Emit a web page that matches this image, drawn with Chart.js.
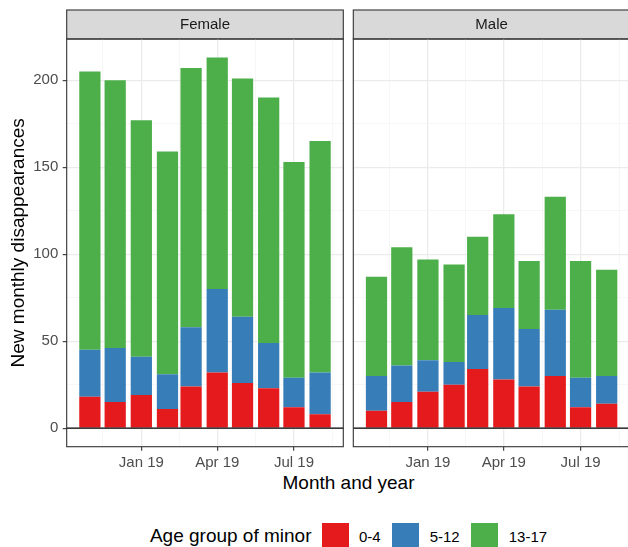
<!DOCTYPE html>
<html>
<head>
<meta charset="utf-8">
<title>New monthly disappearances by sex and age group</title>
<script src="https://cdn.jsdelivr.net/npm/chart.js@4.4.1/dist/chart.umd.min.js"></script>
<style>
  html, body { margin: 0; padding: 0; background: #fff; overflow: hidden; width: 628px; height: 547px; }
  #wrap { position: relative; width: 628px; height: 547px; overflow: hidden;
          font-family: "Liberation Sans", Arial, Helvetica, sans-serif; }
  #wrap canvas { position: absolute; top: 0; }
  #female { left: 0; }
  #male { left: 346px; }
  #xtitle { position: absolute; left: 67px; width: 563px; top: 472px; text-align: center;
            font-size: 19px; line-height: 22px; color: #000; white-space: nowrap; }
  #legend { position: absolute; left: 67px; width: 563px; top: 522px; height: 28px;
            display: flex; justify-content: center; align-items: center; white-space: nowrap; }
  #legend .ttl { font-size: 19px; color: #000; margin-right: 10px; }
  #legend .key { width: 27px; height: 27px; margin-right: 10.5px; }
  #legend .lab { font-size: 15px; color: #000; margin-right: 11.5px; }
  #legend .lab:last-child { margin-right: 0; }
</style>
</head>
<body>
<div id="wrap">
  <canvas id="female" width="346" height="470"></canvas>
  <canvas id="male" width="290" height="470"></canvas>
  <div id="xtitle">Month and year</div>
  <div id="legend"></div>
</div>
<script>
// ---- data -------------------------------------------------------------
const months = ['2018-11', '2018-12', '2019-01', '2019-02', '2019-03',
                '2019-04', '2019-05', '2019-06', '2019-07', '2019-08'];
const ageGroups = ['0-4', '5-12', '13-17'];
const groupColors = ['#E41A1C', '#377EB8', '#4DAF4A'];

const femaleAge0to4   = [18, 15, 19, 11, 24, 32, 26, 23, 12, 8];
const femaleAge5to12  = [27, 31, 22, 20, 34, 48, 38, 26, 17, 24];
const femaleAge13to17 = [160, 154, 136, 128, 149, 133, 137, 141, 124, 133];

const maleAge0to4   = [10, 15, 21, 25, 34, 28, 24, 30, 12, 14];
const maleAge5to12  = [20, 21, 18, 13, 31, 41, 33, 38, 17, 16];
const maleAge13to17 = [57, 68, 58, 56, 45, 54, 39, 65, 67, 61];

const yTickValues = [0, 50, 100, 150, 200];
const xBreakMonths = ['2018-10', '2019-01', '2019-04', '2019-07', '2019-10'];
const xBreakLabels = ['Oct 18', 'Jan 19', 'Apr 19', 'Jul 19', 'Oct 19'];

// ---- helpers ----------------------------------------------------------
const FONT = '"Liberation Sans", Arial, Helvetica, sans-serif';
const dayOf = s => { const [y, m] = s.split('-').map(Number); return Date.UTC(y, m - 1, 1) / 86400000; };

const xs = months.map(dayOf);
let minGap = Infinity;
for (let i = 1; i < xs.length; i++) minGap = Math.min(minGap, xs[i] - xs[i - 1]);
const BAR_FRACTION = 0.9;
const barDays = BAR_FRACTION * minGap;
const xLo = xs[0] - barDays / 2, xHi = xs[xs.length - 1] + barDays / 2;
const xMin = xLo - 0.05 * (xHi - xLo), xMax = xHi + 0.05 * (xHi - xLo);

const totals = [femaleAge0to4, maleAge0to4].map((_, f) => {
  const s = f === 0 ? [femaleAge0to4, femaleAge5to12, femaleAge13to17] : [maleAge0to4, maleAge5to12, maleAge13to17];
  return months.map((_, i) => s[0][i] + s[1][i] + s[2][i]);
});
const yTop = Math.max(...totals.flat());
const yMin = -0.05 * yTop, yMax = yTop * 1.05;

// major breaks with labels plus minor breaks halfway between them
function breaks(values, labels, lo, hi) {
  const out = [];
  values.forEach((v, i) => {
    if (v >= lo && v <= hi) out.push({ value: v, label: labels[i], isMinor: false });
    if (i + 1 < values.length) {
      const mid = (v + values[i + 1]) / 2;
      if (mid >= lo && mid <= hi) out.push({ value: mid, label: '', isMinor: true });
    }
  });
  return out.sort((a, b) => a.value - b.value);
}
const xTicks = breaks(xBreakMonths.map(dayOf), xBreakLabels, xMin, xMax);
const yTicks = breaks(yTickValues, yTickValues.map(String), yMin, yMax);

// strip background + zero line + panel frame
const STRIP_H = 29;
const facetFrame = {
  id: 'facetFrame',
  beforeDraw(chart) {
    const { ctx, chartArea: a } = chart;
    ctx.save();
    ctx.fillStyle = '#D9D9D9';
    ctx.fillRect(a.left, a.top - STRIP_H, a.right - a.left, STRIP_H);
    ctx.strokeStyle = '#333333';
    ctx.lineWidth = 1.1;
    ctx.strokeRect(a.left, a.top - STRIP_H, a.right - a.left, STRIP_H);
    ctx.restore();
  },
  afterDatasetsDraw(chart) {
    const { ctx, chartArea: a, scales: { y } } = chart;
    ctx.save();
    const y0 = y.getPixelForValue(0);
    ctx.strokeStyle = '#000000';
    ctx.lineWidth = 1.4;
    ctx.beginPath(); ctx.moveTo(a.left, y0); ctx.lineTo(a.right, y0); ctx.stroke();
    ctx.strokeStyle = '#333333';
    ctx.lineWidth = 1.1;
    ctx.strokeRect(a.left, a.top, a.right - a.left, a.bottom - a.top);
    ctx.restore();
  }
};

function gridStyle(drawTicks) {
  return {
    offset: false,
    drawTicks: drawTicks,
    tickLength: 4,
    color: c => (c.tick && c.tick.isMinor) ? '#F3F3F3' : '#EBEBEB',
    lineWidth: c => (c.tick && c.tick.isMinor) ? 0.7 : 1.3,
    tickColor: c => (c.tick && c.tick.isMinor) ? 'rgba(0,0,0,0)' : '#333333',
    tickWidth: 1.1
  };
}

function makePanel(id, facet, series, showY, pad) {
  const datasets = ageGroups.map((g, k) => ({
    label: g,
    data: months.map((m, i) => ({ x: dayOf(m), y: series[k][i] })),
    backgroundColor: groupColors[k],
    borderWidth: 0,
    categoryPercentage: 1,
    barPercentage: BAR_FRACTION
  }));
  return new Chart(document.getElementById(id), {
    type: 'bar',
    data: { datasets },
    plugins: [facetFrame],
    options: {
      responsive: false,
      animation: false,
      events: [],
      layout: { padding: pad },
      plugins: {
        legend: { display: false },
        tooltip: { enabled: false },
        title: {
          display: true, text: facet, fullSize: false,
          color: '#1A1A1A', font: { family: FONT, size: 15, weight: 'normal' },
          padding: { top: 5.5, bottom: 5.5 }
        }
      },
      scales: {
        x: {
          type: 'linear', stacked: true, offset: false,
          min: xMin, max: xMax,
          afterBuildTicks: s => { s.ticks = xTicks.map(t => ({ ...t })); },
          afterFit: s => { s.height = 23.3; },
          border: { display: false },
          grid: gridStyle(true),
          ticks: {
            autoSkip: false, maxRotation: 0, padding: 3.5,
            color: '#4D4D4D', font: { family: FONT, size: 15 },
            callback: (v, i, t) => t[i].label
          }
        },
        y: {
          type: 'linear', stacked: true,
          min: yMin, max: yMax,
          afterBuildTicks: s => { s.ticks = yTicks.map(t => ({ ...t })); },
          afterFit: s => { s.width = showY ? 66.7 : 0; },
          border: { display: false },
          grid: gridStyle(showY),
          ticks: {
            display: showY, autoSkip: false, padding: 4.4,
            color: '#4D4D4D', font: { family: FONT, size: 15 },
            callback: (v, i, t) => t[i].label
          },
          title: {
            display: showY, text: 'New monthly disappearances',
            color: '#000000', font: { family: FONT, size: 19 },
            padding: { top: 7.6, bottom: 0 }
          }
        }
      }
    }
  });
}

makePanel('female', 'Female', [femaleAge0to4, femaleAge5to12, femaleAge13to17], true,
          { top: 10, right: 2.7, left: 0, bottom: 0 });
makePanel('male', 'Male', [maleAge0to4, maleAge5to12, maleAge13to17], false,
          { top: 10, right: 6.1, left: 7.3, bottom: 0 });

// shared legend below both panels
const legend = document.getElementById('legend');
const ttl = document.createElement('span');
ttl.className = 'ttl';
ttl.textContent = 'Age group of minor';
legend.appendChild(ttl);
ageGroups.forEach((g, k) => {
  const key = document.createElement('span');
  key.className = 'key';
  key.style.background = groupColors[k];
  const lab = document.createElement('span');
  lab.className = 'lab';
  lab.textContent = g;
  legend.appendChild(key);
  legend.appendChild(lab);
});
</script>
</body>
</html>
